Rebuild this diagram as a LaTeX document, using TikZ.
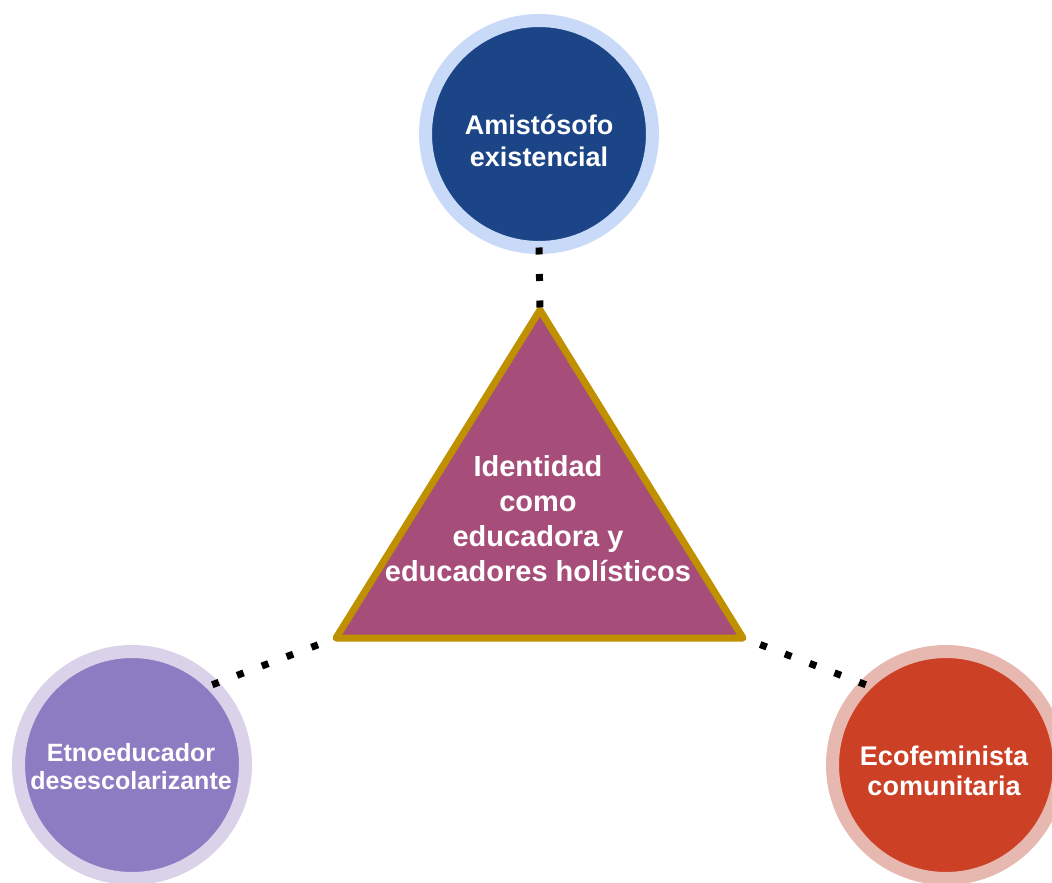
\documentclass[tikz,border=0pt]{standalone}
\usepackage{fontspec}
\setmainfont{Liberation Sans}
\definecolor{topfill}{HTML}{1C4587}
\definecolor{topring}{HTML}{C9DAF8}
\definecolor{leftfill}{HTML}{8E7CC3}
\definecolor{leftring}{HTML}{D9D2E9}
\definecolor{rightfill}{HTML}{CC4125}
\definecolor{rightring}{HTML}{E6B8AF}
\definecolor{trifill}{HTML}{A64D79}
\definecolor{triedge}{HTML}{BF9000}
\begin{document}
\begin{tikzpicture}[x=1pt,y=-1pt,
  rolecircle/.style={circle, minimum size=227pt, line width=13pt, outer sep=0pt, inner sep=0pt},
  roletext/.style={text=white, align=center, inner sep=0pt},
  dotline/.style={line width=7pt, dash pattern=on 7pt off 19.5pt, black},
  tri/.style={fill=trifill, draw=triedge, line width=7pt, line join=round}]
\useasboundingbox (0,0) rectangle (1052,883);
% circles
\node[rolecircle, fill=topfill, draw=topring] (tc) at (539,134) {};
\node[rolecircle, fill=leftfill, draw=leftring] (lc) at (132,765) {};
\node[rolecircle, fill=rightfill, draw=rightring] (rc) at (946,765) {};
% triangle
\draw[tri] (540,310) coordinate (ta) -- (743,638) coordinate (tr) -- (336,638) coordinate (tl) -- cycle;
% texts
\node[roletext, font=\bfseries\fontsize{27}{32}\selectfont] (tct) at (539,141) {Amistósofo\\existencial};
\node[roletext, font=\bfseries\fontsize{25}{28}\selectfont] (lct) at (131,767) {Etnoeducador\\desescolarizante};
\node[roletext, font=\bfseries\fontsize{27}{30}\selectfont] (rct) at (944,771) {Ecofeminista\\comunitaria};
\node[roletext, font=\bfseries\fontsize{29}{35}\selectfont] (tt) at (538,519) {Identidad\\como\\educadora y\\educadores holísticos};
% connectors
\draw[dotline] (tc.south) -- (ta);
\draw[dotline] (lc.45) -- (tl);
\draw[dotline] (rc.135) -- (tr);
\end{tikzpicture}
\end{document}
